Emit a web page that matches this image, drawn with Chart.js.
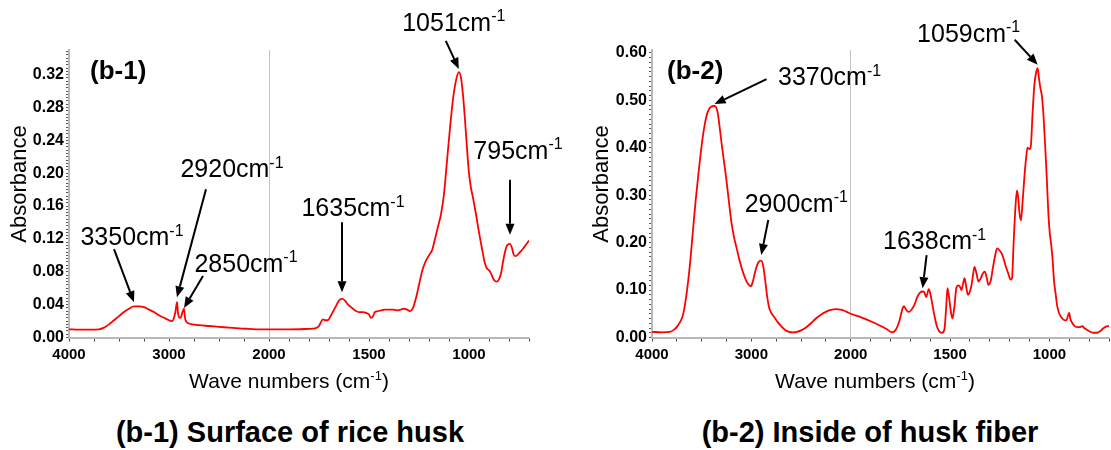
<!DOCTYPE html>
<html><head><meta charset="utf-8">
<script src="https://cdn.jsdelivr.net/npm/chart.js@4.4.1/dist/chart.umd.min.js"></script>
<style>
html,body{margin:0;padding:0;background:#fff;width:1111px;height:450px;overflow:hidden;}
#wrap{position:relative;width:1111px;height:450px;}
canvas{position:absolute;top:0;}
#c1{left:0;}
#c2{left:580px;}
.cap{position:absolute;top:416px;line-height:33px;font:bold 29px "Liberation Sans",Arial,sans-serif;color:#000;white-space:nowrap;transform:translateX(-50%);}
</style></head>
<body><div id="wrap">
<canvas id="c1" width="580" height="400"></canvas>
<canvas id="c2" width="533" height="400"></canvas>
<div class="cap" style="left:290px">(b-1) Surface of rice husk</div>
<div class="cap" style="left:870px">(b-2) Inside of husk fiber</div>
</div>
<script>
// FTIR spectra: wavenumber (cm-1) and absorbance, surface of rice husk
const waveB1 = [4000,3900,3800,3700,3650,3600,3550,3500,3450,3400,3350,3300,3250,3200,3150,3100,3050,3000,2970,2950,2935,2920,2910,2895,2880,2865,2850,2840,2825,2800,2700,2600,2500,2400,2300,2200,2100,2000,
  1900,1800,1770,1750,1740,1730,1720,1705,1690,1670,1650,1635,1620,1605,1590,1570,1550,1530,1515,1500,1490,1480,1470,1455,1440,1420,1400,1380,1360,1340,1325,1310,1295,1280,1265,1250,1235,1220,1200,1185,1170,1155,1140,1125,1110,1095,1080,1065,1051,1040,1030,1020,1010,1000,990,980,965,950,935,920,910,900,890,875,860,850,840,830,820,810,795,785,778,770,760,745,730,715,700];
const absB1 = [0.010,0.0095,0.0095,0.010,0.012,0.016,0.021,0.026,0.031,0.035,0.038,0.038,0.037,0.034,0.031,0.027,0.024,0.021,0.020,0.024,0.032,0.043,0.030,0.024,0.025,0.031,0.035,0.024,0.019,0.017,0.015,0.014,0.013,0.012,0.011,0.0105,0.010,0.010,
  0.010,0.0105,0.011,0.014,0.019,0.022,0.021,0.021,0.027,0.036,0.045,0.047,0.045,0.040,0.037,0.033,0.031,0.031,0.030,0.028,0.024,0.026,0.031,0.032,0.033,0.034,0.034,0.034,0.033,0.034,0.035,0.034,0.032,0.036,0.048,0.064,0.080,0.091,0.100,0.106,0.120,0.135,0.150,0.175,0.215,0.255,0.290,0.313,0.323,0.316,0.295,0.265,0.230,0.200,0.182,0.170,0.150,0.128,0.108,0.090,0.084,0.082,0.078,0.070,0.068,0.071,0.078,0.092,0.104,0.112,0.114,0.109,0.102,0.099,0.100,0.104,0.108,0.113,0.118];

// Inside of husk fiber
const waveB2 = [4000,3900,3820,3780,3740,3700,3680,3650,3620,3590,3560,3530,3500,3470,3440,3410,3370,3340,3320,3300,3275,3250,3225,3200,3175,3150,3125,3100,3075,3050,3025,3005,2985,2960,2930,2900,2880,2860,2840,2820,2800,2770,2740,2700,2660,2620,2580,2540,2500,2450,2400,2350,2300,2250,2200,2150,2100,2050,2000,
  1950,1877,1820,1793,1775,1755,1740,1732,1720,1710,1695,1680,1665,1650,1638,1630,1620,1607,1598,1590,1578,1565,1550,1540,1528,1520,1513,1505,1497,1488,1478,1468,1458,1450,1443,1435,1427,1418,1410,1400,1393,1385,1377,1367,1357,1345,1335,1325,1315,1307,1295,1285,1272,1263,1250,1240,1230,1218,1207,1195,1188,1180,1170,1163,1157,1150,1143,1135,1127,1118,1110,1100,1093,1085,1075,1065,1059,1052,1045,1038,1030,1022,1013,1005,998,990,983,977,968,960,950,935,920,913,905,900,895,888,875,860,845,835,825,810,795,780,760,745,730,715,700];
const absB2 = [0.012,0.011,0.012,0.016,0.025,0.040,0.055,0.095,0.150,0.220,0.290,0.350,0.405,0.448,0.475,0.486,0.488,0.475,0.445,0.410,0.370,0.330,0.285,0.242,0.212,0.190,0.168,0.148,0.132,0.119,0.111,0.108,0.118,0.140,0.158,0.162,0.150,0.120,0.085,0.062,0.052,0.043,0.034,0.024,0.016,0.012,0.011,0.012,0.015,0.021,0.030,0.040,0.048,0.054,0.058,0.060,0.059,0.055,0.050,
  0.043,0.030,0.018,0.011,0.015,0.035,0.060,0.066,0.058,0.054,0.058,0.068,0.085,0.095,0.097,0.096,0.085,0.102,0.090,0.072,0.045,0.022,0.011,0.010,0.018,0.060,0.104,0.085,0.058,0.040,0.065,0.105,0.110,0.107,0.100,0.112,0.125,0.105,0.090,0.097,0.108,0.130,0.149,0.135,0.118,0.125,0.135,0.139,0.125,0.111,0.120,0.145,0.175,0.188,0.183,0.177,0.165,0.148,0.135,0.122,0.125,0.200,0.280,0.310,0.295,0.260,0.247,0.285,0.332,0.375,0.400,0.397,0.405,0.470,0.535,0.562,0.568,0.545,0.525,0.510,0.470,0.410,0.335,0.260,0.220,0.192,0.160,0.121,0.090,0.065,0.050,0.040,0.036,0.037,0.048,0.052,0.040,0.033,0.025,0.022,0.022,0.024,0.020,0.016,0.012,0.010,0.010,0.013,0.019,0.023,0.024];

// Axis tick labels (wavenumber axis is compressed above 2000 cm-1)
const xTickLabels = [4000, 3000, 2000, 1500, 1000];
const xMinorHigh = [4000, 3750, 3500, 3250, 3000, 2750, 2500, 2250, 2000];
const xMinorLow = [1900, 1800, 1700, 1600, 1500, 1400, 1300, 1200, 1100, 1000, 900, 800, 700];
const yTicksB1 = [0.00, 0.04, 0.08, 0.12, 0.16, 0.20, 0.24, 0.28, 0.32];
const yTicksB2 = [0.00, 0.10, 0.20, 0.30, 0.40, 0.50, 0.60];

const FONT = '"Liberation Sans", Arial, Helvetica, sans-serif';

// piecewise axis: 4000-2000 at half scale, 2000-700 at full scale
function toAxis(w) { return w >= 2000 ? (4000 - w) / 2 : 1000 + (2000 - w); }
function fromAxis(u) { return u <= 1000 ? 4000 - 2 * u : 2000 - (u - 1000); }

function drawSupText(ctx, parts, cx, cy, size, align) {
  // parts: [text, isSup]
  const supSize = Math.round(size * 0.62);
  let total = 0;
  const widths = parts.map(p => {
    ctx.font = (p[1] ? supSize : size) + 'px ' + FONT;
    const w = ctx.measureText(p[0]).width;
    total += w;
    return w;
  });
  let x = align === 'left' ? cx : cx - total / 2;
  const base = cy + size * 0.36;
  ctx.textAlign = 'left';
  ctx.textBaseline = 'alphabetic';
  ctx.fillStyle = '#000';
  parts.forEach((p, i) => {
    ctx.font = (p[1] ? supSize : size) + 'px ' + FONT;
    ctx.fillText(p[0], x, p[1] ? base - size * 0.38 : base);
    x += widths[i];
  });
}

function drawArrow(ctx, x1, y1, x2, y2) {
  const ang = Math.atan2(y2 - y1, x2 - x1);
  const len = 11, hw = 4.5;
  const bx = x2 - len * Math.cos(ang), by = y2 - len * Math.sin(ang);
  ctx.strokeStyle = '#000';
  ctx.lineWidth = 2;
  ctx.beginPath();
  ctx.moveTo(x1, y1);
  ctx.lineTo(bx, by);
  ctx.stroke();
  ctx.fillStyle = '#000';
  ctx.beginPath();
  ctx.moveTo(x2, y2);
  ctx.lineTo(bx + hw * Math.sin(ang), by - hw * Math.cos(ang));
  ctx.lineTo(bx - hw * Math.sin(ang), by + hw * Math.cos(ang));
  ctx.closePath();
  ctx.fill();
}

const decorPlugin = {
  id: 'decor',
  afterDraw(chart, args, opts) {
    const ctx = chart.ctx;
    const xs = chart.scales.x, ys = chart.scales.y;
    ctx.save();
    // peak callouts
    opts.notes.forEach(n => {
      const tx = xs.getPixelForValue(toAxis(n.wave));
      const ty = ys.getPixelForValue(n.abs);
      drawArrow(ctx, tx + n.tail[0], ty + n.tail[1], tx, ty);
      drawSupText(ctx, [[String(n.wave) + 'cm', false], ['-1', true]], tx + n.label[0], ty + n.label[1], 25, 'center');
    });
    // panel tag
    ctx.font = 'bold 26px ' + FONT;
    ctx.fillStyle = '#000';
    ctx.textAlign = 'left';
    ctx.textBaseline = 'middle';
    ctx.fillText(opts.tag, opts.tagPos[0], opts.tagPos[1]);
    // axis titles
    drawSupText(ctx, [['Wave numbers (cm', false], ['-1', true], [')', false]], opts.xTitle[0], opts.xTitle[1], 21, 'center');
    ctx.translate(opts.yTitle[0], opts.yTitle[1]);
    ctx.rotate(-Math.PI / 2);
    ctx.font = '22px ' + FONT;
    ctx.textAlign = 'center';
    ctx.textBaseline = 'middle';
    ctx.fillStyle = '#000';
    ctx.fillText('Absorbance', 0, 0);
    ctx.restore();
  }
};

function makeChart(id, waves, abs, cfg) {
  const xMajorPos = xTickLabels.map(toAxis);
  const xAll = Array.from(new Set(xMinorHigh.concat(xMinorLow))).map(toAxis);
  const yAll = [];
  const nMinor = Math.floor(cfg.yMax / cfg.yMinor + 1e-6);
  for (let i = 0; i <= nMinor; i++) yAll.push(Math.round(i * cfg.yMinor * 10000) / 10000);
  const gridAt = toAxis(2000);
  return new Chart(document.getElementById(id), {
    type: 'line',
    data: {
      datasets: [{
        data: waves.map((w, i) => ({ x: toAxis(w), y: abs[i] })),
        borderColor: '#ff0000',
        borderWidth: 1.8,
        pointRadius: 0,
        fill: false,
        cubicInterpolationMode: 'monotone'
      }]
    },
    options: {
      responsive: false,
      animation: false,
      devicePixelRatio: 1,
      layout: { padding: { left: 0, right: cfg.rightPad, top: 50, bottom: 0 } },
      plugins: {
        legend: { display: false },
        tooltip: { enabled: false },
        decor: cfg.decor
      },
      scales: {
        x: {
          type: 'linear',
          min: 0,
          max: toAxis(700),
          afterBuildTicks: s => { s.ticks = xAll.map(v => ({ value: v })); },
          afterFit: s => { s.height = 62.5; },
          ticks: {
            autoSkip: false,
            maxRotation: 0,
            padding: 4,
            color: '#000',
            font: { family: FONT, size: 15, weight: 'bold' },
            callback: v => xMajorPos.some(p => Math.abs(p - v) < 1e-6) ? String(Math.round(fromAxis(v))) : ''
          },
          grid: {
            drawOnChartArea: true,
            color: c => (c.tick && Math.abs(c.tick.value - gridAt) < 1e-6) ? '#c4c4c4' : 'rgba(0,0,0,0)',
            lineWidth: 1,
            tickLength: 4,
            tickColor: '#444',
            tickWidth: 1
          },
          border: { display: true, color: '#b8b8b8', width: 2 }
        },
        y: {
          type: 'linear',
          min: 0,
          max: cfg.yMax,
          afterBuildTicks: s => { s.ticks = yAll.map(v => ({ value: v })); },
          afterFit: s => { s.width = cfg.yWidth; },
          ticks: {
            autoSkip: false,
            padding: 2,
            color: '#000',
            font: { family: FONT, size: 16, weight: 'bold' },
            callback: v => cfg.yLabels.some(t => Math.abs(t - v) < 1e-6) ? v.toFixed(2) : ''
          },
          grid: {
            drawOnChartArea: false,
            tickLength: 3,
            tickColor: '#555',
            tickWidth: 1
          },
          border: { display: true, color: '#b8b8b8', width: 2 }
        }
      }
    },
    plugins: [decorPlugin]
  });
}

makeChart('c1', waveB1, absB1, {
  yMax: 0.35, yMinor: 0.004, yLabels: yTicksB1, yWidth: 69, rightPad: 51,
  decor: {
    tag: '(b-1)', tagPos: [90, 72], xTitle: [289, 380], yTitle: [20, 184],
    notes: [
      { wave: 3350, abs: 0.043, tail: [-20, -53], label: [-2, -66] },
      { wave: 2920, abs: 0.049, tail: [29, -108], label: [55, -129] },
      { wave: 2850, abs: 0.036, tail: [19, -32], label: [62, -45] },
      { wave: 1635, abs: 0.055, tail: [0, -70], label: [11, -85] },
      { wave: 1051, abs: 0.327, tail: [-13, -28], label: [-5, -47] },
      { wave: 795, abs: 0.125, tail: [0, -55], label: [8, -85] }
    ]
  }
});

makeChart('c2', waveB2, absB2, {
  yMax: 0.606, yMinor: 0.01, yLabels: yTicksB2, yWidth: 72, rightPad: 1,
  decor: {
    tag: '(b-2)', tagPos: [87, 72], xTitle: [295, 380], yTitle: [22, 184],
    notes: [
      { wave: 3370, abs: 0.492, tail: [52, -25], label: [115, -28] },
      { wave: 2900, abs: 0.174, tail: [7, -35], label: [35, -52] },
      { wave: 1638, abs: 0.104, tail: [4, -33], label: [12, -48] },
      { wave: 1059, abs: 0.575, tail: [-23, -25], label: [-69, -32] }
    ]
  }
});
</script></body></html>
